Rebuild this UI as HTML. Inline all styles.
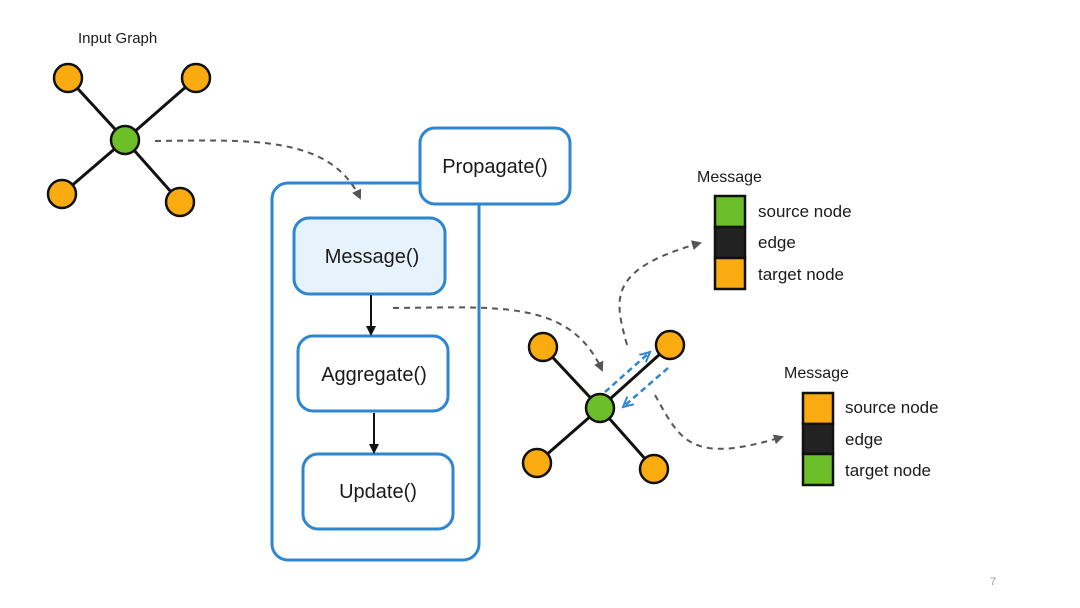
<!DOCTYPE html>
<html><head><meta charset="utf-8"><style>
html,body{margin:0;padding:0;background:#fff}
svg{display:block}
text{font-family:"Liberation Sans",sans-serif;fill:#1a1a1a}
</style></head><body>
<svg width="1080" height="608" viewBox="0 0 1080 608" xmlns="http://www.w3.org/2000/svg">
<defs>
<marker id="ag" markerWidth="10" markerHeight="10" refX="8" refY="5" orient="auto" markerUnits="userSpaceOnUse"><path d="M0,0 L10,5 L0,10 Z" fill="#555"/></marker>
<marker id="ak" markerWidth="10" markerHeight="10" refX="8" refY="5" orient="auto" markerUnits="userSpaceOnUse"><path d="M0,0 L10,5 L0,10 Z" fill="#111"/></marker>
<marker id="ab" markerWidth="12" markerHeight="12" refX="10" refY="6" orient="auto" markerUnits="userSpaceOnUse"><path d="M0,1 L10,6 L0,11" fill="none" stroke="#2e86d1" stroke-width="2"/></marker>
</defs>
<rect width="1080" height="608" fill="#fff"/>
<text x="78" y="43" font-size="15">Input Graph</text>
<g stroke="#111" stroke-width="3">
<line x1="125" y1="140" x2="68" y2="78"/><line x1="125" y1="140" x2="196" y2="78"/>
<line x1="125" y1="140" x2="62" y2="194"/><line x1="125" y1="140" x2="180" y2="202"/>
</g>
<g stroke="#111" stroke-width="2.5" fill="#f9ab0f">
<circle cx="68" cy="78" r="14"/><circle cx="196" cy="78" r="14"/><circle cx="62" cy="194" r="14"/><circle cx="180" cy="202" r="14"/>
<circle cx="125" cy="140" r="14" fill="#6cbf28"/>
</g>
<g stroke="#2e86d1" stroke-width="3" fill="#fff">
<rect x="272" y="183" width="207" height="377" rx="16"/>
<rect x="420" y="128" width="150" height="76" rx="15"/>
<rect x="294" y="218" width="151" height="76" rx="15" fill="#e6f3fc"/>
<rect x="298" y="336" width="150" height="75" rx="15"/>
<rect x="303" y="454" width="150" height="75" rx="15"/>
</g>
<path d="M155,141 C250,140 330,135 360,198" fill="none" stroke="#555" stroke-width="2" stroke-dasharray="6,5" marker-end="url(#ag)"/>
<text x="495" y="173" font-size="20" text-anchor="middle">Propagate()</text>
<text x="372" y="263" font-size="20" text-anchor="middle">Message()</text>
<text x="374" y="381" font-size="20" text-anchor="middle">Aggregate()</text>
<text x="378" y="498" font-size="20" text-anchor="middle">Update()</text>
<line x1="371" y1="295" x2="371" y2="334" stroke="#111" stroke-width="2" marker-end="url(#ak)"/>
<line x1="374" y1="413" x2="374" y2="452" stroke="#111" stroke-width="2" marker-end="url(#ak)"/>
<path d="M393,308 C500,307 570,300 602,370" fill="none" stroke="#555" stroke-width="2" stroke-dasharray="6,5" marker-end="url(#ag)"/>
<g stroke="#111" stroke-width="3">
<line x1="600" y1="408" x2="543" y2="347"/><line x1="600" y1="408" x2="670" y2="345"/>
<line x1="600" y1="408" x2="537" y2="463"/><line x1="600" y1="408" x2="654" y2="469"/>
</g>
<g stroke="#111" stroke-width="2.5" fill="#f9ab0f">
<circle cx="543" cy="347" r="14"/><circle cx="670" cy="345" r="14"/><circle cx="537" cy="463" r="14"/><circle cx="654" cy="469" r="14"/>
<circle cx="600" cy="408" r="14" fill="#6cbf28"/>
</g>
<line x1="605" y1="392" x2="650" y2="352" stroke="#2e86d1" stroke-width="2.5" stroke-dasharray="6,4" marker-end="url(#ab)"/>
<line x1="668" y1="368" x2="623" y2="407" stroke="#2e86d1" stroke-width="2.5" stroke-dasharray="6,4" marker-end="url(#ab)"/>
<path d="M627,345 C615,300 605,270 700,243" fill="none" stroke="#555" stroke-width="2" stroke-dasharray="6,5" marker-end="url(#ag)"/>
<path d="M655,395 C680,440 690,465 782,437" fill="none" stroke="#555" stroke-width="2" stroke-dasharray="6,5" marker-end="url(#ag)"/>
<text x="697" y="182" font-size="16">Message</text>
<g stroke="#111" stroke-width="2.5">
<rect x="715" y="196" width="30" height="31" fill="#6cbf28"/>
<rect x="715" y="227" width="30" height="31" fill="#222"/>
<rect x="715" y="258" width="30" height="31" fill="#f9ab0f"/>
</g>
<text x="758" y="217" font-size="17">source node</text>
<text x="758" y="248" font-size="17">edge</text>
<text x="758" y="280" font-size="17">target node</text>
<text x="784" y="378" font-size="16">Message</text>
<g stroke="#111" stroke-width="2.5">
<rect x="803" y="393" width="30" height="31" fill="#f9ab0f"/>
<rect x="803" y="424" width="30" height="30" fill="#222"/>
<rect x="803" y="454" width="30" height="31" fill="#6cbf28"/>
</g>
<text x="845" y="413" font-size="17">source node</text>
<text x="845" y="445" font-size="17">edge</text>
<text x="845" y="476" font-size="17">target node</text>
<text x="990" y="585" font-size="11" style="fill:#999">7</text>
</svg>
</body></html>
